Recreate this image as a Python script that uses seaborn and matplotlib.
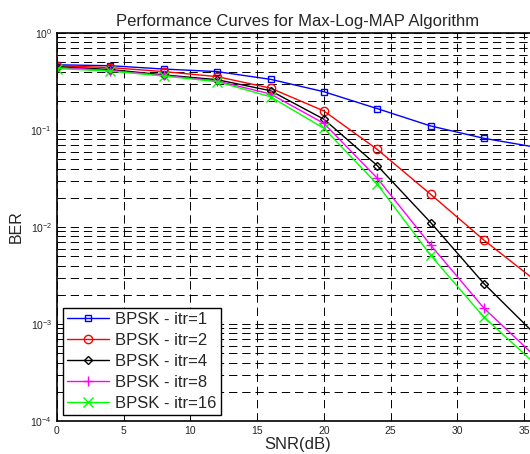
import numpy as np
import pandas as pd
import seaborn as sns
import matplotlib
matplotlib.use("Agg")
import matplotlib.pyplot as plt
from matplotlib.ticker import LogLocator, NullFormatter

# values
snr = [0, 4, 8, 12, 16, 20, 24, 28, 32, 36]
ber_itr1 = [0.47, 0.46, 0.425, 0.40, 0.333, 0.248, 0.166, 0.110, 0.082, 0.066]
ber_itr2 = [0.46, 0.44, 0.40, 0.355, 0.27, 0.157, 0.063, 0.0217, 0.0073, 0.0027]
ber_itr4 = [0.45, 0.42, 0.37, 0.33, 0.254, 0.129, 0.0429, 0.0111, 0.0026, 0.00074]
ber_itr8 = [0.44, 0.41, 0.365, 0.32, 0.235, 0.117, 0.0318, 0.0065, 0.00145, 0.00044]
ber_itr16 = [0.43, 0.405, 0.36, 0.315, 0.22, 0.104, 0.0275, 0.0051, 0.00117, 0.00037]
labels = ["BPSK - itr=1", "BPSK - itr=2", "BPSK - itr=4", "BPSK - itr=8", "BPSK - itr=16"]

sns.set_style("white")
plt.rcParams['font.family'] = ['Liberation Sans', 'DejaVu Sans']
plt.rcParams['lines.scale_dashes'] = False

series = [ber_itr1, ber_itr2, ber_itr4, ber_itr8, ber_itr16]
colors = ["#0000ff", "#ff0000", "#000000", "#ff00ff", "#00ff00"]
markers = ["s", "o", "D", "+", "x"]
msizes = [5, 6, 4.5, 6.5, 7]

fig = plt.figure(figsize=(5.3, 4.54), dpi=100)
ax = fig.add_axes([57/530, (454-421)/454, 480.5/530, 388/454])

for y, lab, c, m, ms in zip(series, labels, colors, markers, msizes):
    sns.lineplot(x=snr, y=y, ax=ax, color=c, marker=m, markersize=ms,
                 markerfacecolor="none", markeredgecolor=c, markeredgewidth=1.0,
                 linewidth=1.0, label=lab)

ax.set_yscale("log")
ax.set_xlim(0, 36)
ax.set_ylim(1e-4, 1)
ax.set_xticks([0, 5, 10, 15, 20, 25, 30, 35])
ax.yaxis.set_major_locator(LogLocator(base=10, numticks=10))
ax.yaxis.set_minor_locator(LogLocator(base=10, subs=np.arange(2, 10), numticks=50))
ax.yaxis.set_minor_formatter(NullFormatter())

dash = (0, (6, 3.5))
ax.grid(True, which="major", axis="both", color="black", linestyle=dash, linewidth=0.7)
ax.grid(True, which="minor", axis="y", color="black", linestyle=dash, linewidth=0.7)

ax.tick_params(axis="both", which="both", direction="in", top=True, right=True,
               labelsize=7.5, color="black")
ax.tick_params(axis="both", which="major", length=4)
ax.tick_params(axis="y", which="minor", length=2)
for s in ax.spines.values():
    s.set_color("black")
    s.set_linewidth(1.2)

ax.set_title("Performance Curves for Max-Log-MAP Algorithm", fontsize=12, pad=5)
ax.set_xlabel("SNR(dB)", fontsize=12, labelpad=1)
ax.set_ylabel("BER", fontsize=11.5, labelpad=5)

leg = ax.legend(loc="lower left", fontsize=12, frameon=True, fancybox=False,
                handlelength=2.5, borderaxespad=0.35, labelspacing=0.36,
                borderpad=0.25, handletextpad=0.4)
leg.get_frame().set_edgecolor("black")
leg.get_frame().set_linewidth(1.0)
leg.get_frame().set_alpha(1)

fig.savefig("out.png", dpi=100)
